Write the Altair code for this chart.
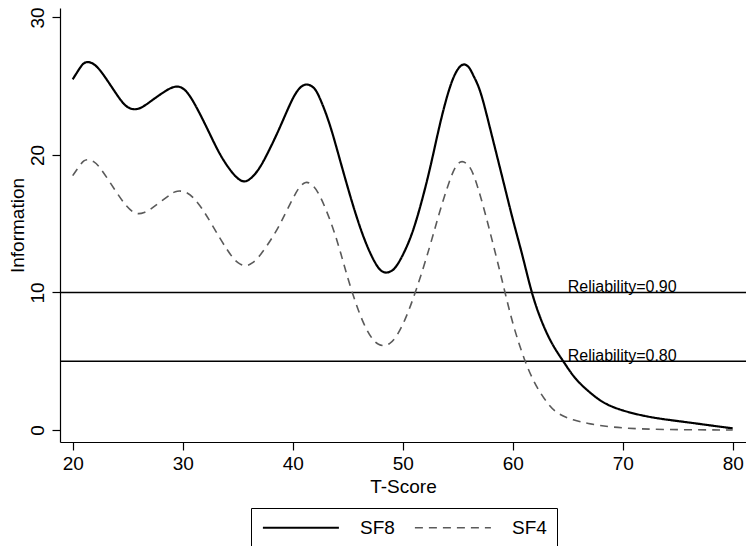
import altair as alt
import pandas as pd

series = ["SF8", "SF4"]

sf8_t = [20, 20.7, 21.0, 21.4, 21.9, 22.5, 23.5, 24.5, 25.0, 25.5, 26.0, 26.5, 27.5, 28.5, 29.1, 29.6, 30.1,
         30.8, 32.2, 33.3, 34.3, 35, 35.6, 36.2, 37, 37.9, 38.85, 40, 40.7, 41.3, 41.9, 42.3, 43.3, 44.1,
         45.5, 46.6, 47.5, 48.0, 48.5, 49.0, 49.5, 50.7, 51.6, 52.5, 53.4, 54.3, 55.0, 55.6, 56.1, 56.4,
         57.03, 57.8, 58.55, 59.3, 60.05, 60.9, 61.7, 62.5, 63.5, 64.6, 65.5, 66.4, 67.5, 68.5, 70, 72,
         74, 76, 78, 80]
sf8_info = [25.5, 26.4, 26.7, 26.8, 26.65, 26.2, 25.0, 23.8, 23.45, 23.3, 23.35, 23.55, 24.15, 24.7, 24.95, 25.0, 24.85,
            24.2, 22.0, 20.1, 18.9, 18.25, 18.0, 18.25, 19.0, 20.4, 22.0, 24.2, 25.0, 25.2, 24.95, 24.5, 22.5, 20.2,
            16.2, 13.6, 12.1, 11.55, 11.4, 11.55, 11.9, 13.8, 16.2, 19.0, 22.4, 25.1, 26.35, 26.7, 26.35, 25.8,
            24.85, 22.4, 20.0, 17.6, 15.15, 12.7, 10.0, 8.1, 6.3, 5.0, 3.9, 3.15, 2.4, 1.85, 1.4, 1.0,
            0.75, 0.55, 0.33, 0.12]

sf4_t = [20, 20.7, 21.0, 21.4, 21.9, 22.4, 23.4, 24.7, 25.5, 26, 26.5, 27, 27.9, 29, 29.3, 29.8, 30.3,
         30.9, 31.9, 33.4, 34.6, 35.2, 35.75, 36.3, 37, 38.5, 39.3, 40.05, 40.6, 41.2, 41.7, 42.4, 43.7,
         44.5, 45.3, 46.4, 47.3, 47.8, 48.3, 48.8, 49.3, 50.2, 51.3, 52.5, 53.25, 54.3, 54.9, 55.4, 55.9,
         56.4, 57.3, 58.1, 58.85, 59.3, 60.1, 61.1, 61.8, 62.5, 63.2, 64, 65.5, 67, 69, 71.6, 75, 80]
sf4_info = [18.5, 19.3, 19.6, 19.7, 19.55, 19.2, 18.0, 16.4, 15.8, 15.7, 15.8, 16.0, 16.55, 17.2, 17.35, 17.4, 17.3,
            17.0, 16.0, 13.9, 12.4, 12.05, 11.9, 12.1, 12.6, 14.4, 15.7, 16.9, 17.7, 18.1, 17.9, 17.3, 14.7,
            12.5, 10.2, 7.7, 6.5, 6.2, 6.1, 6.25, 6.6, 7.9, 10.3, 13.4, 15.6, 18.3, 19.35, 19.6, 19.35,
            18.8, 16.4, 13.9, 11.5, 10.0, 7.4, 5.0, 3.7, 2.7, 1.9, 1.2, 0.7, 0.44, 0.2, 0.07, 0.02, 0.0]

ref_values = [10, 5]
ref_labels = ["Reliability=0.90", "Reliability=0.80"]
ref_label_t = [65, 65]

x_ticks = [20, 30, 40, 50, 60, 70, 80]
y_ticks = [0, 10, 20, 30]

df = pd.DataFrame({
    "T": sf8_t + sf4_t,
    "Info": sf8_info + sf4_info,
    "Series": ["SF8"] * len(sf8_t) + ["SF4"] * len(sf4_t),
})
refs = pd.DataFrame({"y": ref_values, "label": ref_labels, "x": ref_label_t})

FONT = "Liberation Sans"
x_scale = alt.Scale(domain=[18.845, 81.21], nice=False, zero=False)
y_scale = alt.Scale(domain=[-0.873, 30.69], nice=False, zero=False)

legend = alt.Legend(
    orient="none", legendX=191, legendY=500, direction="horizontal", title=None,
    strokeColor="black", padding=10, symbolType="M-2,0H18", symbolSize=57.76,
    symbolStrokeWidth=1.5, labelFontSize=19, labelFont=FONT, labelColor="black",
    columnPadding=16, labelOffset=80,
)

lines = alt.Chart(df).mark_line(interpolate="basis").encode(
    x=alt.X("T:Q", scale=x_scale,
            axis=alt.Axis(values=x_ticks, title="T-Score", labelPadding=4, titlePadding=4)),
    y=alt.Y("Info:Q", scale=y_scale,
            axis=alt.Axis(values=y_ticks, title="Information", labelAngle=270,
                          labelAlign="center", labelBaseline="alphabetic", labelPadding=9,
                          titlePadding=1, titleFontSize=19)),
    color=alt.Color("Series:N", scale=alt.Scale(domain=series, range=["#000000", "#5a5a5a"]), legend=legend),
    strokeDash=alt.StrokeDash("Series:N", scale=alt.Scale(domain=series, range=[[1, 0], [8, 6]]), legend=legend),
    strokeWidth=alt.StrokeWidth("Series:N", scale=alt.Scale(domain=series, range=[2.2, 1.6]), legend=None),
)

rules = alt.Chart(refs).mark_rule(color="black", strokeWidth=1.5).encode(
    y=alt.Y("y:Q", scale=y_scale)
)

labels = alt.Chart(refs).mark_text(align="left", baseline="alphabetic", fontSize=16, font=FONT,
                                   color="black").encode(
    x=alt.X("x:Q", scale=x_scale),
    y=alt.Y("y:Q", scale=y_scale),
    text="label:N",
)

chart = alt.layer(rules, labels, lines).properties(
    width=686, height=434,
    autosize=alt.AutoSizeParams(type="none"),
    padding={"left": 52, "top": 0, "right": 0, "bottom": 104},
).configure_axis(
    grid=False, domainColor="black", tickColor="black", labelColor="black", titleColor="black",
    labelFont=FONT, titleFont=FONT, labelFontSize=19, titleFontSize=19, titleFontWeight="normal",
    tickSize=8, domainWidth=1.2, tickWidth=1.2,
).configure_view(stroke="transparent")

chart.save("out.html", embed_options={"renderer": "svg", "actions": False})
